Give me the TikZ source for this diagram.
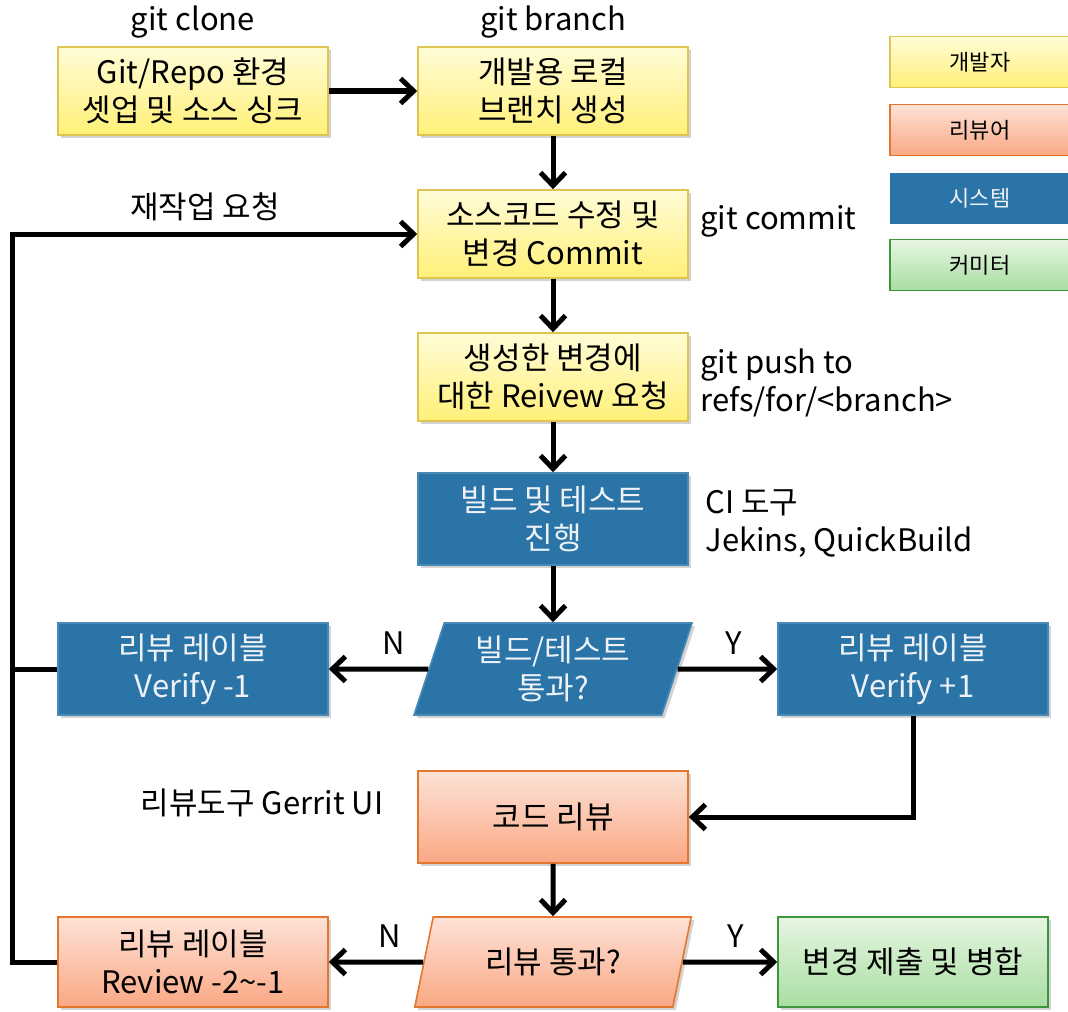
\documentclass[tikz,border=0pt]{standalone}
\usepackage{fontspec}
\setmainfont{Noto Sans CJK KR}
\usepackage{tikz}
\usetikzlibrary{shapes.geometric,arrows.meta,positioning,calc,shadows}
\usepackage{xcolor}
\definecolor{devtop}{RGB}{255,252,215}
\definecolor{devbot}{RGB}{255,240,120}
\definecolor{devline}{RGB}{222,196,80}
\definecolor{revtop}{RGB}{253,226,215}
\definecolor{revbot}{RGB}{250,168,132}
\definecolor{revline}{RGB}{228,118,45}
\definecolor{sysfill}{RGB}{42,116,168}
\definecolor{systext}{RGB}{238,242,246}
\definecolor{comtop}{RGB}{230,245,225}
\definecolor{combot}{RGB}{168,222,162}
\definecolor{comline}{RGB}{60,150,60}

\begin{document}
\begin{tikzpicture}[x=0.5pt,y=-0.5pt,
  box/.style={rectangle,minimum width=135pt,minimum height=44pt,inner sep=2pt,align=center,
    font=\fontsize{15.5}{19}\selectfont,line width=0.8pt,
    drop shadow={opacity=0.35,shadow xshift=1.5pt,shadow yshift=-1.5pt}},
  dev/.style={box,draw=devline,top color=devtop,bottom color=devbot},
  rev/.style={box,draw=revline,top color=revtop,bottom color=revbot},
  sys/.style={box,draw=sysfill!85!white,fill=sysfill,text=systext,minimum height=46pt},
  com/.style={box,draw=comline,top color=comtop,bottom color=combot},
  slant/.style={trapezium,trapezium left angle=73,trapezium right angle=107,trapezium stretches=true,
    minimum width=139pt,minimum height=46pt},
  legend/.style={minimum width=90pt,minimum height=25.5pt,font=\fontsize{11}{13}\selectfont,line width=0.6pt},
  lbl/.style={font=\fontsize{15.5}{19}\selectfont,align=left,inner sep=0pt},
  link/.style={line width=2.5pt,-{Straight Barb[length=6.5pt,width=12.5pt,line width=2.5pt]}},
  rail/.style={line width=2.5pt}
]
\useasboundingbox (0,0) rectangle (1068,1011);

% main flow
\node[dev] (clone) at (193,91) {Git/Repo 환경\\셋업 및 소스 싱크};
\node[dev] (branch) at (553,91) {개발용 로컬\\브랜치 생성};
\node[dev] (commit) at (553,234) {소스코드 수정 및\\변경 Commit};
\node[dev] (push) at (553,377) {생성한 변경에\\대한 Reivew 요청};
\node[sys] (build) at (553,519) {빌드 및 테스트\\진행};
\node[sys,slant] (buildok) at (553,669) {빌드/테스트\\통과?};
\node[sys] (vminus) at (193,669) {리뷰 레이블\\Verify -1};
\node[sys] (vplus) at (913,669) {리뷰 레이블\\Verify +1};
\node[rev,minimum height=46pt] (review) at (553,817) {코드 리뷰};
\node[rev,slant,minimum height=45pt] (reviewok) at (553,962) {리뷰 통과?};
\node[rev,minimum height=45pt] (rminus) at (193,962) {리뷰 레이블\\Review -2\textasciitilde-1};
\node[com,minimum height=45pt] (merge) at (913,962) {변경 제출 및 병합};

% annotations
\node[lbl] (tclone) at (193,22) {git clone};
\node[lbl] (tbranch) at (553,22) {git branch};
\node[lbl,anchor=west] (tcommit) at (700,221) {git commit};
\node[lbl,anchor=west] (tpush) at (700,383) {git push to\\refs/for/<branch>};
\node[lbl,anchor=west] (tci) at (705,524) {CI 도구\\Jekins, QuickBuild};
\node[lbl] (tgerrit) at (262,803) {리뷰도구 Gerrit UI};
\node[lbl] (trework) at (205,207) {재작업 요청};

% legend
\node[legend,draw=devline,top color=devtop,bottom color=devbot] (ldev) at (980,62) {개발자};
\node[legend,draw=revline,top color=revtop,bottom color=revbot] (lrev) at (980,130) {리뷰어};
\node[legend,fill=sysfill,text=systext] (lsys) at (980,198) {시스템};
\node[legend,draw=comline,top color=comtop,bottom color=combot] (lcom) at (980,265) {커미터};

% connectors
\coordinate (railx) at (12,0);
\draw[link] (clone) -- (branch);
\foreach \a/\b in {branch/commit,commit/push,push/build,build/buildok,review/reviewok}{
  \draw[link] (\a) -- (\b);
}
\draw[link] (buildok) -- node[lbl,above=6pt,pos=0.35] {N} (vminus);
\draw[link] (buildok) -- node[lbl,above=6pt,pos=0.56] {Y} (vplus);
\draw[link] (reviewok) -- node[lbl,above=6pt,pos=0.35] {N} (rminus);
\draw[link] (reviewok) -- node[lbl,above=6pt,pos=0.56] {Y} (merge);
\draw[link] (vplus.south) |- (review.east);
\draw[link] (rminus.west) -| (railx |- commit.west) -- (commit.west);
\draw[rail] (vminus.west) -- (vminus.west -| railx);
\end{tikzpicture}
\end{document}
